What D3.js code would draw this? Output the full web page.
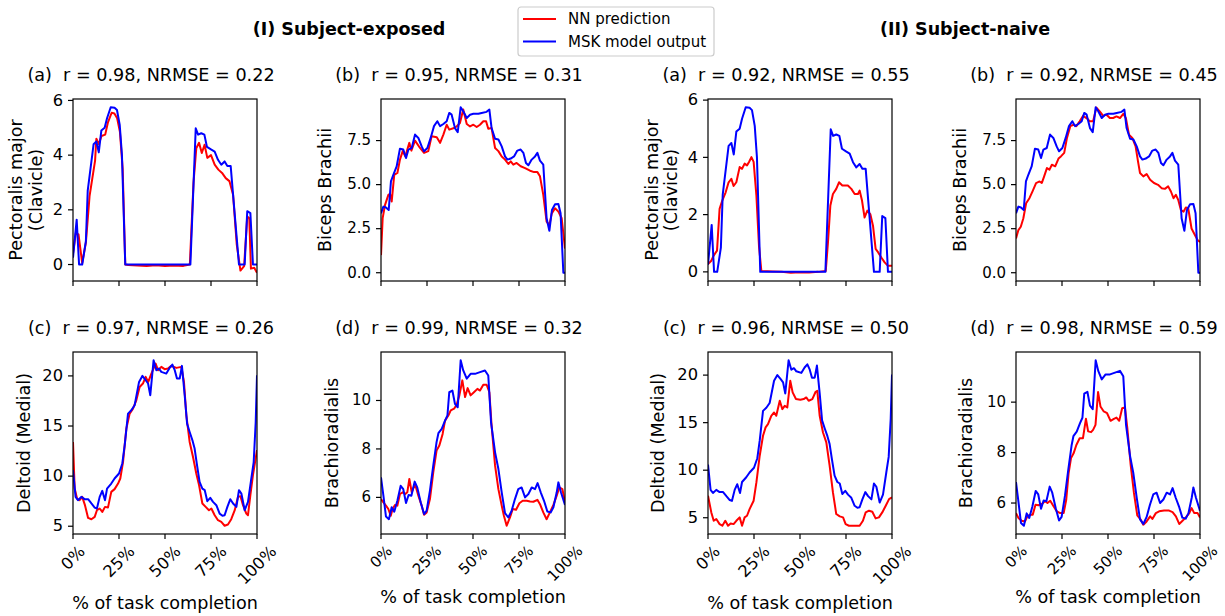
<!DOCTYPE html>
<html><head><meta charset="utf-8">
<script src="https://cdn.jsdelivr.net/npm/d3@7"></script>
<style>body{margin:0;background:#fff} text{font-family:"DejaVu Sans",sans-serif;fill:#000;white-space:pre}</style>
</head><body><svg id="c" width="1225" height="616"></svg>
<script>
// ---- data: [% of task completion, value] ----
const mskPectoralis = [[0,0.25],[2,1.64],[3.3,0],[5,0],[7,0.85],[8,2.7],[11.2,4.4],[12.7,4.5],[14,4.1],[15.4,4.9],[17.2,5.0],[18.5,5.35],[20.5,5.75],[22.6,5.73],[23.9,5.65],[25.4,5.1],[26.6,4.0],[28.4,0],[63.8,0],[66.7,4.98],[68,4.75],[69.7,4.8],[71.4,4.75],[72.8,4.3],[75.2,4.2],[77,4.13],[78.8,3.83],[80.6,3.65],[82.4,3.77],[83.9,3.6],[85.7,3.6],[87,2.55],[90.2,0],[93.3,0],[94.7,1.95],[96.4,1.88],[97.8,0],[100,0]];
const nnPectoralisExposed = [[0,0.4],[1.5,1.15],[3,1.1],[5,0.05],[7,0.8],[9,2.5],[12,3.8],[12.7,4.6],[14,4.4],[15.5,4.7],[17.5,4.75],[19,5.2],[21,5.55],[22.5,5.52],[24,5.35],[25.5,4.85],[27,3.5],[28.4,0],[30,-0.02],[35,-0.04],[40,-0.05],[45,-0.03],[50,-0.05],[55,-0.04],[60,-0.05],[63.5,0],[65.5,3.0],[67,4.25],[68.5,4.45],[70,4.08],[71.5,4.38],[73,3.9],[75,4.0],[77,3.65],[79,3.47],[81,3.35],[83,3.16],[85,3.05],[87,2.55],[89,0.73],[91,-0.22],[93,-0.06],[94.7,1.75],[95.8,1.7],[96.7,-0.15],[98.5,-0.12],[100,-0.3]];
const nnPectoralisNaive = [[0,0.27],[1.8,0.39],[3,0.56],[4.9,0.74],[6.3,2.2],[7.8,2.5],[9.6,2.78],[11.2,3.13],[12.7,3.25],[13.9,3.0],[15.4,3.13],[17.2,3.66],[18.5,3.6],[19.9,3.78],[21.2,3.72],[22.3,3.84],[23.6,4.01],[24.8,3.84],[26.3,2.67],[27.7,0.91],[29,0.03],[35,0.01],[40,0],[45,-0.03],[50,-0.01],[55,-0.02],[60,0],[64,0.03],[65.2,1.03],[66.5,2.32],[67.9,2.72],[69.7,2.9],[71.2,3.13],[73,3.02],[76,3.02],[77.9,2.9],[79.7,2.72],[81.5,2.72],[82.4,2.84],[83.7,2.49],[85.1,1.9],[86.6,2.14],[88.2,2.02],[89.7,1.6],[91.1,0.8],[92.5,0.68],[94.2,0.5],[96,0.33],[97.8,0.21],[100,0.21]];

const mskBiceps = [[0,3.37],[1.3,3.75],[2.7,3.7],[4.2,3.56],[5.4,5.18],[6.7,5.56],[8.5,6.03],[10.3,7.04],[12.1,6.99],[13.6,6.51],[14.9,6.99],[16.7,7.08],[18.5,7.84],[20.3,7.65],[22.1,7.17],[23.4,6.89],[25.2,7.08],[27,7.65],[28.8,8.32],[30.6,8.6],[32.1,8.32],[33.9,8.44],[35.7,8.6],[37.1,9.07],[38.4,8.97],[40.2,8.21],[41.7,7.98],[43.3,9.39],[44.7,9.16],[46.6,8.78],[48.4,8.97],[50.2,9.02],[52.9,9.02],[54.7,9.07],[57.4,9.13],[58.9,9.26],[60.1,8.21],[62,7.6],[63.8,7.56],[65.6,7.17],[67.4,6.6],[68.7,6.42],[70.5,6.48],[72.3,6.6],[74.1,6.93],[75.9,6.99],[77.4,6.8],[78.8,6.23],[80.1,6.1],[81.9,6.42],[83.7,6.6],[85,6.8],[86.4,6.36],[88.2,6.13],[90,3.09],[91.5,2.38],[92.9,3.56],[94.6,3.89],[96.4,3.9],[97.6,3.37],[99.1,0],[100,0]];
const nnBicepsExposed = [[0,1.0],[0.9,3.1],[2.2,3.85],[4,4.42],[4.9,4.48],[5.8,4.04],[7.2,5.56],[8.9,5.66],[10.3,6.42],[11.8,6.9],[13.2,6.6],[14.3,6.99],[15.4,7.37],[16.5,6.93],[18.5,7.5],[21.2,7.08],[23.4,6.8],[25.7,6.9],[27.5,7.75],[30.3,7.69],[32.1,7.37],[33.9,7.84],[35.7,8.4],[37.1,8.12],[39.7,8.21],[41.1,8.3],[42.9,8.5],[44.7,9.26],[46.6,8.44],[48.4,8.3],[50.2,8.4],[52,8.27],[53.8,8.4],[55.6,8.6],[57.1,8.6],[58.3,8.17],[60.1,8.21],[62,7.08],[63.8,6.9],[65.6,6.6],[67.4,6.42],[69.2,6.17],[70.5,6.32],[71.9,6.13],[73.7,6.23],[75.9,6.04],[78.3,5.94],[81,5.79],[83.2,5.71],[85,5.71],[86.4,5.47],[88.2,4.42],[90,2.9],[91.5,2.7],[92.8,3.37],[94.6,3.66],[96.4,3.47],[98.2,3.09],[100,1.37]];
const nnBicepsNaive = [[0,1.94],[1.3,2.42],[2.6,2.61],[4,3.09],[5.5,3.94],[7.3,4.23],[9.1,4.65],[10.9,5.09],[12.8,5.18],[14,5.09],[15.3,5.47],[16.8,5.94],[18.2,5.85],[19.5,6.13],[21.3,6.04],[23.1,6.48],[24.4,6.6],[26.2,6.8],[27.7,7.65],[29.5,8.32],[31.3,8.4],[32.8,8.32],[34.6,8.6],[36.4,8.9],[38.3,8.78],[40.1,8.6],[41.9,8.6],[43.7,9.37],[45.5,9.16],[47.4,8.9],[49.2,8.97],[51,8.78],[52.8,8.78],[54.6,8.87],[56.5,8.78],[58.3,9.02],[59.7,8.78],[61.4,7.84],[63.2,7.65],[65,7.17],[66.3,6.32],[67.4,5.66],[69.2,5.47],[71,5.6],[72.9,5.28],[75,5.09],[77.2,4.99],[79.1,4.8],[80.9,4.76],[82.7,4.9],[84.2,4.61],[85.6,4.23],[86.9,4.42],[88.2,4.13],[89.6,3.56],[91.1,3.47],[92.3,3.7],[93.6,3.66],[95.4,2.51],[97.3,2.13],[98.7,1.85],[100,1.75]];

const mskDeltoid = [[0,10.6],[1.4,7.93],[2.7,7.6],[4.5,7.93],[6.3,7.7],[8.2,7.7],[10,7.27],[11.8,6.86],[13,6.77],[14.5,7.93],[15.9,8.53],[17.4,7.6],[18.5,8.76],[20.8,9.26],[22.6,9.76],[25,10.26],[26.8,11.26],[28.1,13.1],[29.9,16.24],[31.7,16.57],[33.5,17.07],[35.9,19.4],[37.7,20],[39.5,19.57],[40.8,19.24],[42,18.07],[43.8,21.56],[45.3,20.57],[46.7,20.73],[48,20.4],[50.7,20.23],[52.5,20.8],[54,21.13],[55.3,20.57],[56.5,19.73],[58,19.73],[59.2,21],[60.7,18.07],[62,15.24],[63.4,14.41],[64.9,13.58],[66.1,12.75],[67.4,11.09],[68.8,9.42],[70.3,8.76],[71.6,8.6],[73,7.5],[74.6,7.83],[76.1,7.43],[77.9,7.1],[79.7,6.26],[81.2,6.05],[82.4,6.1],[83.9,6.93],[85.5,7.7],[87,7.27],[88.8,6.93],[90.2,8.6],[91.5,8.26],[93.3,6.6],[95.1,7.43],[96.9,9.76],[98.2,11.4],[99.3,15.4],[100,20.07]];
const nnDeltoidExposed = [[0,13.4],[0.9,8.76],[2.2,7.76],[3.6,7.6],[5,7.93],[6.5,7.1],[8.2,5.83],[10,5.7],[11.8,5.93],[13,6.6],[14.5,6.77],[15.9,6.43],[17.4,6.93],[19,6.86],[20.8,8.43],[22.6,8.7],[24.5,9.26],[25.7,9.76],[27.2,11.43],[29,14.76],[30.8,16.24],[32.6,16.74],[34.4,17.57],[36.2,18.9],[38,19.24],[39.5,19.9],[40.9,19.4],[42.6,20.23],[44.9,21.23],[46.2,20.57],[48,20.9],[49.8,20.67],[51.6,20.73],[53.4,21],[56.2,20.8],[58.9,20.9],[60.3,19.4],[61.6,16.07],[63.4,13.41],[65.2,11.93],[67,10.26],[68.5,9.1],[70.3,7.27],[72.1,6.93],[73.9,6.6],[75.2,6.77],[77,6.1],[78.8,5.6],[80.6,5.43],[82.4,5.05],[84.2,5.17],[86,5.7],[87.9,6.6],[89.7,7.93],[91,8.0],[92.4,7.1],[94.2,6.26],[95.1,6.1],[96.4,8.1],[97.8,10.1],[100,12.6]];
const nnDeltoidNaive = [[0,7.31],[1.8,5.56],[3.1,4.68],[4.5,4.86],[6.3,4.33],[7.8,4.16],[9.4,4.68],[10.9,4.16],[12.3,4.4],[13.9,4.33],[15.4,4.68],[17.2,5.04],[18.5,4.16],[19.9,5.04],[21.2,5.21],[22.6,5.91],[24.8,6.79],[26.3,8.71],[28.1,11.52],[29.9,13.62],[31.3,14.5],[32.6,14.85],[34.4,15.72],[35.9,16.07],[37.1,15.72],[39,17.3],[40.4,16.42],[41.7,16.77],[43.1,16.6],[44.7,19.4],[46,18.18],[47.8,17.48],[50.2,17.4],[52,17.48],[53.4,17.65],[54.7,17.3],[56.7,17.48],[58.5,18.25],[59.4,18.35],[60.7,15.72],[62.5,13.97],[64.3,12.92],[66.1,10.47],[67.9,7.66],[69.7,5.39],[71.6,5.14],[73.4,5.04],[74.8,4.33],[76.6,4.16],[78.8,4.16],[80.6,4.16],[82.4,4.16],[84.2,4.68],[85.7,5.56],[87.5,5.74],[89.3,5.63],[91.1,4.93],[92.9,5.04],[94.7,5.56],[96.6,6.26],[98.4,6.96],[100,7.14]];

const mskBrachio = [[0,6.83],[1.3,6.07],[2.7,5.21],[4.3,5.1],[5.8,5.59],[7.2,5.41],[8.9,5.86],[10.7,6.48],[12.1,6.34],[13.6,5.77],[15,6.1],[16.5,6.07],[18.3,6.65],[19.7,6.41],[21.6,5.79],[23.4,5.31],[24.8,5.45],[26.6,6.28],[28.4,7.31],[30.2,8.28],[31.2,8.65],[33,8.83],[34.8,9.17],[36.1,9.38],[37.1,10.34],[38.8,10.41],[40.2,9.86],[41.7,9.72],[43.3,11.66],[44.7,11.24],[46.6,10.9],[48.7,11.1],[51.1,11.1],[53.8,11.17],[56.5,11.24],[58.3,11.03],[59.8,9.1],[62,7.86],[63.8,7.17],[65.6,6.21],[67.4,5.35],[69.2,5.17],[71,5.45],[72.8,5.93],[74.6,6.34],[76.4,6.41],[78.3,6.0],[80.1,6.14],[81.9,6.41],[83.7,6.34],[85.1,6.59],[86.8,6.21],[88.6,5.86],[90.4,5.42],[92.2,5.38],[93.7,5.59],[95.5,6.21],[96.4,6.62],[97.8,6.21],[100,5.69]];
const nnBrachioExposed = [[0,5.93],[1.3,5.79],[2.7,5.66],[4,5.52],[5.3,5.24],[6.3,5.52],[7.6,5.69],[8.9,5.66],[10.3,6.14],[11.8,6.21],[13.2,6.14],[14.3,6.21],[15.4,6.76],[16.7,6.21],[18.5,6.55],[20.3,6.07],[22.1,5.66],[23.4,5.28],[24.8,5.38],[26.6,5.93],[28.4,7.03],[30.2,7.93],[31.7,8.14],[33.5,8.62],[34.8,9.17],[36.6,9.38],[37.9,9.59],[39.7,9.66],[41.1,9.82],[42.6,10.21],[44.2,10.83],[45.7,10.14],[47.1,10.51],[48.7,10.21],[50.5,10.34],[52.4,10.48],[53.8,10.41],[55.6,10.65],[57.4,10.65],[58.9,10.34],[60.1,8.97],[62,7.31],[63.8,6.34],[65.6,5.66],[66.8,5.24],[68.3,4.83],[70.1,5.17],[71.6,5.52],[73.4,5.49],[75.2,5.76],[77,5.86],[79.2,5.86],[81,5.83],[82.8,5.82],[85,5.9],[86.4,5.72],[88.2,5.38],[90,5.1],[91.8,5.38],[93.7,5.69],[95.5,6.07],[96.9,6.41],[98.6,6.34],[100,5.79]];
const nnBrachioNaive = [[0,5.6],[1.3,5.41],[3.1,5.3],[4.9,5.27],[6.2,5.47],[7.7,5.54],[9.1,5.54],[10.6,5.93],[12.2,5.91],[14,5.96],[15.8,6.07],[17.1,6.0],[18.6,6.09],[20.4,5.87],[22.2,5.67],[24,5.6],[25.9,5.6],[27.3,6.13],[28.6,7.19],[29.9,7.78],[31.3,7.97],[32.8,8.3],[34.6,8.57],[36.4,8.57],[38,9.34],[39.2,8.84],[40.8,8.81],[41.9,8.9],[43.2,9.1],[44.6,10.4],[45.9,9.83],[47.7,9.63],[49.5,9.56],[51.4,9.26],[53.2,9.34],[54.6,9.39],[56.1,9.26],[57.7,9.76],[59.2,9.79],[60.5,8.97],[62.3,7.52],[64.1,6.4],[65.9,5.51],[67.8,5.34],[69.2,5.14],[71,5.27],[72.9,5.47],[74.1,5.37],[76,5.6],[77.8,5.67],[80.5,5.7],[83.2,5.7],[85.1,5.64],[86.9,5.47],[88.7,5.17],[90.5,5.3],[92.3,5.43],[94.2,5.6],[95.4,5.8],[96.9,5.6],[98.7,5.6],[100,5.43]];

const titles = ["(a)  r = 0.98, NRMSE = 0.22","(b)  r = 0.95, NRMSE = 0.31","(a)  r = 0.92, NRMSE = 0.55","(b)  r = 0.92, NRMSE = 0.45",
                "(c)  r = 0.97, NRMSE = 0.26","(d)  r = 0.99, NRMSE = 0.32","(c)  r = 0.96, NRMSE = 0.50","(d)  r = 0.98, NRMSE = 0.59"];
const xTicks = [0,25,50,75,100];
const ticksPect = [0,2,4,6], ticksBic = [0,2.5,5,7.5], ticksDel = [5,10,15,20], ticksBra = [6,8,10];
const groupTitles = ["(I) Subject-exposed","(II) Subject-naive"];
const legendLabels = ["NN prediction","MSK model output"];
const RED = "#ff0000", BLUE = "#0000ff";

// ---- layout ----
const svg = d3.select("#c");
const colX = [73, 381, 708, 1016], axW = 184;
const rowY = [99, 352], axH = 182;
const LABEL_FS = 17.6;
const tickFs = [16.3, 15, 16.3, 15]; // per column

const panels = [
  {c:0,r:0,nn:nnPectoralisExposed,msk:mskPectoralis,ticks:ticksPect,fmt:d3.format("d"),yl:["Pectoralis major","(Clavicle)"],ylo:[-57,-37]},
  {c:1,r:0,nn:nnBicepsExposed,msk:mskBiceps,ticks:ticksBic,fmt:d3.format(".1f"),yl:["Biceps Brachii"],ylo:[-56]},
  {c:2,r:0,nn:nnPectoralisNaive,msk:mskPectoralis,ticks:ticksPect,fmt:d3.format("d"),yl:["Pectoralis major","(Clavicle)"],ylo:[-56,-37]},
  {c:3,r:0,nn:nnBicepsNaive,msk:mskBiceps,ticks:ticksBic,fmt:d3.format(".1f"),yl:["Biceps Brachii"],ylo:[-56]},
  {c:0,r:1,nn:nnDeltoidExposed,msk:mskDeltoid,ticks:ticksDel,fmt:d3.format("d"),yl:["Deltoid (Medial)"],ylo:[-49]},
  {c:1,r:1,nn:nnBrachioExposed,msk:mskBrachio,ticks:ticksBra,fmt:d3.format("d"),yl:["Brachioradialis"],ylo:[-49]},
  {c:2,r:1,nn:nnDeltoidNaive,msk:mskDeltoid,ticks:ticksDel,fmt:d3.format("d"),yl:["Deltoid (Medial)"],ylo:[-50]},
  {c:3,r:1,nn:nnBrachioNaive,msk:mskBrachio,ticks:ticksBra,fmt:d3.format("d"),yl:["Brachioradialis"],ylo:[-50]}
];

panels.forEach((p,i)=>{
  const fs = tickFs[p.c];
  const g = svg.append("g").attr("transform",`translate(${colX[p.c]},${rowY[p.r]})`);
  const x = d3.scaleLinear().domain([0,100]).range([0,axW]);
  const ext = d3.extent(p.nn.concat(p.msk), d=>d[1]);
  const pad = (ext[1]-ext[0])*0.05;
  const y = d3.scaleLinear().domain([ext[0]-pad, ext[1]+pad]).range([axH,0]);
  const line = d3.line().x(d=>x(d[0])).y(d=>y(d[1]));
  const clipId = "clip"+i;
  g.append("clipPath").attr("id",clipId).append("rect").attr("width",axW).attr("height",axH);
  const lg = g.append("g").attr("clip-path",`url(#${clipId})`);
  lg.append("path").datum(p.nn).attr("d",line).attr("fill","none").attr("stroke",RED).attr("stroke-width",2).attr("stroke-linejoin","round");
  lg.append("path").datum(p.msk).attr("d",line).attr("fill","none").attr("stroke",BLUE).attr("stroke-width",2).attr("stroke-linejoin","round");

  const ya = g.append("g").call(d3.axisLeft(y).tickValues(p.ticks).tickFormat(p.fmt).tickSize(5).tickPadding(5).offset(0));
  ya.select(".domain").remove();
  ya.selectAll("line").attr("stroke","#000").attr("stroke-width",1.2);
  ya.selectAll("text").attr("font-size",fs).attr("font-family","DejaVu Sans").attr("fill","#000");

  const xa = g.append("g").attr("transform",`translate(0,${axH})`)
    .call(d3.axisBottom(x).tickValues(xTicks).tickFormat(d=>d+"%").tickSize(5).offset(0));
  xa.select(".domain").remove();
  xa.selectAll("line").attr("stroke","#000").attr("stroke-width",1.2);
  if (p.r===0) { xa.selectAll("text").remove(); }
  else {
    xa.selectAll("text").attr("font-size",fs).attr("font-family","DejaVu Sans").attr("fill","#000")
      .each(function(){
        const w = this.getComputedTextLength(), h = fs*1.0;
        const bh = (w+h)/Math.SQRT2;
        d3.select(this).attr("y",0).attr("dy",0).attr("text-anchor","middle").attr("dominant-baseline","central")
          .attr("transform",`translate(0,${9+bh/2}) rotate(-45)`);
      });
    g.append("text").attr("x",axW/2).attr("y",(p.c%2===0?257:251)).attr("text-anchor","middle")
      .attr("font-size",LABEL_FS).text("% of task completion");
  }
  g.append("rect").attr("width",axW).attr("height",axH).attr("fill","none").attr("stroke","#000").attr("stroke-width",1.2);

  g.append("text").attr("x",axW/2-14).attr("y",-18).attr("text-anchor","middle").attr("font-size",LABEL_FS).text(titles[i]);
  p.yl.forEach((t,k)=>{
    g.append("text").attr("transform",`translate(${p.ylo[k]},${axH/2}) rotate(-90)`)
      .attr("text-anchor","middle").attr("dominant-baseline","central").attr("font-size",LABEL_FS).text(t);
  });
});

// group titles
svg.append("text").attr("x",349).attr("y",35).attr("text-anchor","middle").attr("font-size",17.5).attr("font-weight","bold").text(groupTitles[0]);
svg.append("text").attr("x",965).attr("y",35).attr("text-anchor","middle").attr("font-size",17.5).attr("font-weight","bold").text(groupTitles[1]);

// legend
const leg = svg.append("g");
leg.append("rect").attr("x",518).attr("y",7).attr("width",196).attr("height",49).attr("rx",3)
  .attr("fill","#fff").attr("fill-opacity",0.8).attr("stroke","#cccccc").attr("stroke-width",1.2);
[RED,BLUE].forEach((c,k)=>{
  const yy = 19 + k*22.5;
  leg.append("line").attr("x1",523).attr("x2",556).attr("y1",yy).attr("y2",yy).attr("stroke",c).attr("stroke-width",2);
  leg.append("text").attr("x",568).attr("y",yy).attr("dominant-baseline","central").attr("font-size",15).text(legendLabels[k]);
});
</script></body></html>
